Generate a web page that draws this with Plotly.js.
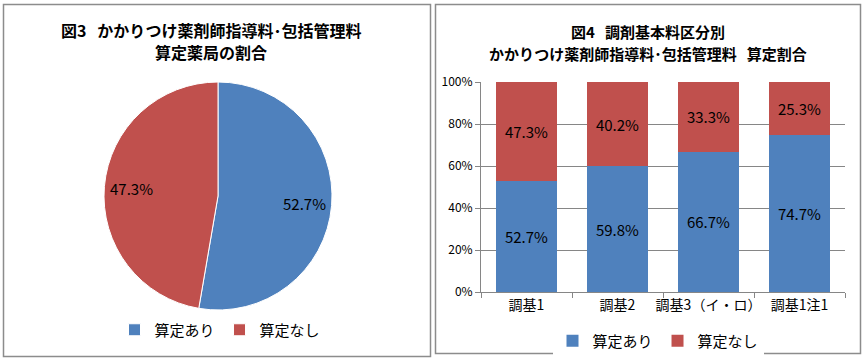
<!DOCTYPE html>
<html>
<head>
<meta charset="utf-8">
<script src="https://cdn.plot.ly/plotly-3.0.1.min.js"></script>
<style>html,body{margin:0;padding:0;background:#fff;}#chart{width:864px;height:359px;}</style>
</head>
<body>
<div id="chart"></div>
<script>
// Pie data (図3)
const pieLabels = ["算定あり", "算定なし"];
const pieValues = [52.7, 47.3];

// Bar data (図4)
const barCategories = ["調基1", "調基2", "調基3（イ・ロ）", "調基1注1"];
const seriesYes = [52.7, 59.8, 66.7, 74.7];
const seriesNo = [47.3, 40.2, 33.3, 25.3];
const yTickVals = [0, 20, 40, 60, 80, 100];
const yTickText = ["0%", "20%", "40%", "60%", "80%", "100%"];

const BLUE = "#4F81BD", RED = "#C0504D";
const FONT = "'Noto Sans CJK JP', 'Liberation Sans', sans-serif";
const W = 864, H = 359;
const px = x => x / W;
const py = y => 1 - y / H;

// pie geometry (pixels)
const PIE = {cx: 218, cy: 196, r: 114};

const traces = [
  {
    type: "pie",
    labels: pieLabels,
    values: pieValues,
    sort: false,
    direction: "clockwise",
    rotation: 0,
    marker: {colors: [BLUE, RED], line: {color: "#ffffff", width: 1}},
    textposition: "none",
    domain: {x: [px(PIE.cx - PIE.r), px(PIE.cx + PIE.r)], y: [py(PIE.cy + PIE.r), py(PIE.cy - PIE.r)]},
    legend: "legend",
    hoverinfo: "none"
  },
  {
    type: "bar", name: "算定あり", x: barCategories, y: seriesYes,
    marker: {color: BLUE},
    texttemplate: "%{y:.1f}%", textposition: "inside", insidetextanchor: "middle",
    textfont: {size: 15, color: "#000", family: FONT},
    xaxis: "x", yaxis: "y", legend: "legend2", hoverinfo: "none"
  },
  {
    type: "bar", name: "算定なし", x: barCategories, y: seriesNo,
    marker: {color: RED},
    texttemplate: "%{y:.1f}%", textposition: "inside", insidetextanchor: "middle",
    textfont: {size: 15, color: "#000", family: FONT},
    xaxis: "x", yaxis: "y", legend: "legend2", hoverinfo: "none"
  }
];

// pie slice labels placed from the data (clockwise from 12 o'clock)
const total = pieValues.reduce((a, b) => a + b, 0);
let cum = 0;
const pieAnnots = pieValues.map(v => {
  const mid = (cum + v / 2) / total * 2 * Math.PI;
  cum += v;
  const rr = PIE.r * 0.76;
  const x = PIE.cx + rr * Math.sin(mid);
  const y = PIE.cy - rr * Math.cos(mid);
  return {xref: "paper", yref: "paper", x: px(x), y: py(y), text: v.toFixed(1) + "%",
          showarrow: false, xanchor: "center", yanchor: "middle",
          font: {size: 15, family: FONT, color: "#000"}};
});

const layout = {
  width: W, height: H,
  margin: {l: 0, r: 0, t: 0, b: 0},
  paper_bgcolor: "#fff", plot_bgcolor: "#fff",
  font: {family: FONT, color: "#000"},
  barmode: "stack",
  bargap: 0.33,
  xaxis: {
    domain: [px(481), px(845)],
    showgrid: false,
    showline: true, linecolor: "#868686", linewidth: 1,
    ticks: "outside", tickson: "boundaries", ticklen: 5, tickcolor: "#868686",
    tickangle: 0,
    tickfont: {size: 14, family: FONT, color: "#000"},
    fixedrange: true
  },
  yaxis: {
    domain: [py(292), py(82)],
    range: [0, 100],
    tickvals: yTickVals, ticktext: yTickText,
    showgrid: true, gridcolor: "#868686", gridwidth: 1,
    showline: true, linecolor: "#868686", linewidth: 1,
    ticks: "outside", ticklen: 5, tickcolor: "#868686",
    tickfont: {size: 12, family: FONT, color: "#000"},
    zeroline: false,
    fixedrange: true
  },
  showlegend: true,
  legend: {
    orientation: "h", x: px(220), xanchor: "center", y: py(330), yanchor: "middle",
    font: {size: 15, family: FONT, color: "#000"},
    itemwidth: 30, traceorder: "normal"
  },
  legend2: {
    orientation: "h", x: px(658), xanchor: "center", y: py(341), yanchor: "middle",
    font: {size: 15, family: FONT, color: "#000"},
    itemwidth: 30, traceorder: "normal"
  },
  shapes: [
    {type: "rect", xref: "paper", yref: "paper", x0: px(3.5), x1: px(430.5), y0: py(356.5), y1: py(4.5),
     line: {color: "#8c8c8c", width: 1.5}},
    {type: "rect", xref: "paper", yref: "paper", x0: px(435.5), x1: px(860.5), y0: py(353.5), y1: py(4.5),
     line: {color: "#8c8c8c", width: 1.5}}
  ],
  annotations: [
    {xref: "paper", yref: "paper", x: px(211), y: py(30), text: "<b>図3&nbsp;&nbsp;&nbsp;かかりつけ薬剤師指導料･包括管理料</b>",
     showarrow: false, xanchor: "center", yanchor: "middle", font: {size: 16, family: FONT, color: "#000"}},
    {xref: "paper", yref: "paper", x: px(211), y: py(52), text: "<b>算定薬局の割合</b>",
     showarrow: false, xanchor: "center", yanchor: "middle", font: {size: 16, family: FONT, color: "#000"}},
    {xref: "paper", yref: "paper", x: px(648), y: py(32), text: "<b>図4&nbsp;&nbsp;&nbsp;調剤基本料区分別</b>",
     showarrow: false, xanchor: "center", yanchor: "middle", font: {size: 15, family: FONT, color: "#000"}},
    {xref: "paper", yref: "paper", x: px(648), y: py(53), text: "<b>かかりつけ薬剤師指導料･包括管理料&nbsp;&nbsp;&nbsp;算定割合</b>",
     showarrow: false, xanchor: "center", yanchor: "middle", font: {size: 15, family: FONT, color: "#000"}}
  ].concat(pieAnnots)
};

Plotly.newPlot("chart", traces, layout, {staticPlot: true, displayModeBar: false});
</script>
</body>
</html>
